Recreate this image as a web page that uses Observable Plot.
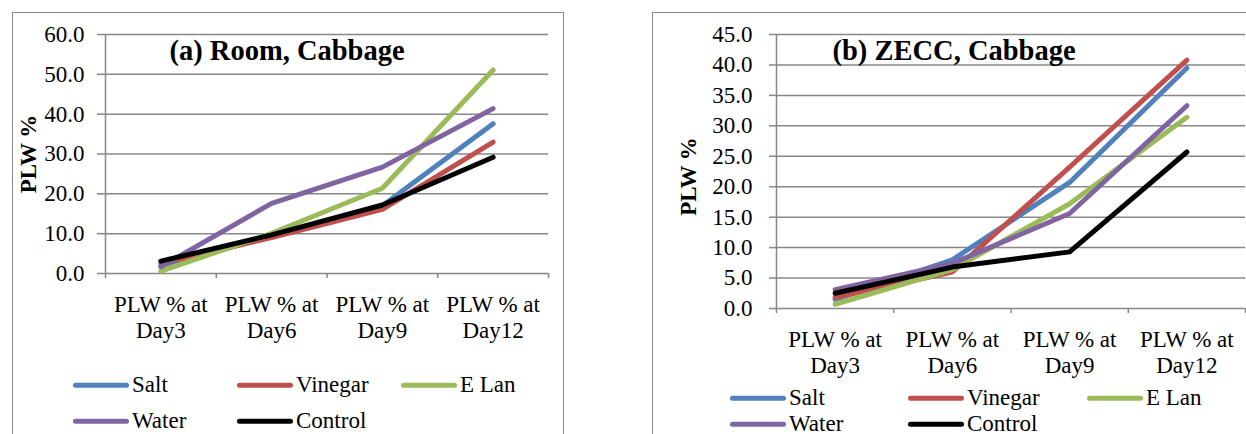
<!DOCTYPE html>
<html><head><meta charset="utf-8">
<script src="https://cdn.jsdelivr.net/npm/d3@7"></script>
<script src="https://cdn.jsdelivr.net/npm/@observablehq/plot@0.6"></script>
<style>
body{margin:0;background:#fff;width:1246px;height:434px;overflow:hidden;position:relative;font-family:'Liberation Serif',serif;}
.frame{position:absolute;border:1.5px solid #888;box-sizing:border-box;}
.chart{position:absolute;top:0;}
.chart svg text{font-family:'Liberation Serif',serif;}
.item{position:absolute;display:flex;align-items:center;white-space:nowrap;transform:translateY(-50%);font-family:'Liberation Serif',serif;font-size:23px;color:#000;line-height:0.8;}
.sw{display:inline-block;width:56px;height:5px;border-radius:3px;margin-right:3px;}
</style></head><body>
<div class="frame" style="left:12px;top:12px;width:552px;height:460px"></div>
<div class="frame" style="left:652px;top:12px;width:700px;height:460px"></div>
<div id="c1" class="chart" style="left:0;width:563px"></div>
<div id="c2" class="chart" style="left:640px;width:606px"></div>
<div id="leg1"></div>
<div id="leg2"></div>
<script>
// ---- data ----
const dayLabels = ["PLW % at\nDay3", "PLW % at\nDay6", "PLW % at\nDay9", "PLW % at\nDay12"];
const seriesNames = ["Salt", "Vinegar", "E Lan", "Water", "Control"];
const seriesColors = ["#4F81BD", "#C0504D", "#9BBB59", "#8064A2", "#000000"];

// (a) Room, Cabbage
const roomSalt    = [2.0, 9.3, 17.0, 37.6];
const roomVinegar = [2.5, 9.0, 16.1, 33.0];
const roomELan    = [0.6, 10.1, 21.4, 51.1];
const roomWater   = [1.7, 17.6, 26.7, 41.4];
const roomControl = [3.1, 9.7, 17.2, 29.2];
const roomTicks = [0, 10, 20, 30, 40, 50, 60];

// (b) ZECC, Cabbage
const zeccSalt    = [1.5, 8.0, 20.7, 39.5];
const zeccVinegar = [1.8, 6.0, 23.2, 40.8];
const zeccELan    = [0.7, 6.4, 17.2, 31.4];
const zeccWater   = [3.1, 7.4, 15.6, 33.3];
const zeccControl = [2.5, 6.8, 9.3, 25.7];
const zeccTicks = [0, 5, 10, 15, 20, 25, 30, 35, 40, 45];

const FONT = "'Liberation Serif', serif";

function panel(o) {
  const data = [];
  seriesNames.forEach((s, k) => o.values[k].forEach((v, i) => data.push({series: s, i, v})));
  const grid = "#878787";
  return Plot.plot({
    width: o.width, height: o.height,
    marginTop: 34, marginBottom: o.marginBottom, marginLeft: o.marginLeft, marginRight: o.marginRight,
    style: {fontFamily: FONT, fontSize: "23px", color: "#000", background: "transparent", overflow: "visible"},
    x: {type: "linear", domain: [-0.5, 3.5]},
    y: {domain: [0, o.ticks[o.ticks.length - 1]]},
    color: {domain: seriesNames, range: seriesColors},
    marks: [
      Plot.gridY(o.ticks, {stroke: grid, strokeOpacity: 1, strokeWidth: 1.5}),
      Plot.ruleX([-0.5], {stroke: grid, strokeWidth: 1.5}),
      Plot.axisY(o.ticks, {tickSize: o.yTickSize, tickPadding: o.yTickPadding, tickFormat: d3.format(".1f"), stroke: grid, strokeWidth: 1.5, label: null, fontFamily: FONT}),
      Plot.axisX([-0.5, 0.5, 1.5, 2.5, 3.5], {tickSize: 5, tickFormat: () => "", stroke: grid, strokeWidth: 1.5, label: null}),
      Plot.axisX([0, 1, 2, 3], {tickSize: 0, tickPadding: 20, tickFormat: i => dayLabels[i], lineHeight: 1.13, label: null, fontFamily: FONT}),
      Plot.line(data, {x: "i", y: "v", z: "series", stroke: "series", strokeWidth: 5, strokeLinejoin: "round", strokeLinecap: "round"}),
      Plot.text([o.title], {frameAnchor: "top-left", dx: o.titleDx, dy: 5, textAnchor: "start", lineAnchor: "top", fontWeight: "bold", fontSize: 28.5, fontFamily: FONT}),
      Plot.text(["PLW %"], {frameAnchor: "left", dx: o.ylabDx, dy: o.ylabDy, rotate: -90, textAnchor: "middle", lineAnchor: "middle", fontWeight: "bold", fontSize: 23, fontFamily: FONT})
    ]
  });
}

document.getElementById("c1").append(panel({
  values: [roomSalt, roomVinegar, roomELan, roomWater, roomControl],
  ticks: roomTicks, title: "(a) Room, Cabbage",
  width: 563, height: 345, marginBottom: 72, marginLeft: 105, marginRight: 15,
  yTickSize: 8, yTickPadding: 13, titleDx: 64, ylabDx: -77, ylabDy: 0
}));
document.getElementById("c2").append(panel({
  values: [zeccSalt, zeccVinegar, zeccELan, zeccWater, zeccControl],
  ticks: zeccTicks, title: "(b) ZECC, Cabbage",
  width: 606, height: 380, marginBottom: 72, marginLeft: 136, marginRight: 1,
  yTickSize: 7, yTickPadding: 17, titleDx: 56, ylabDx: -88, ylabDy: 5
}));

function legend(el, xs, ys) {
  const host = document.getElementById(el);
  seriesNames.forEach((s, k) => {
    const d = document.createElement("div");
    d.className = "item";
    d.style.left = xs[k % 3] + "px";
    d.style.top = ys[Math.floor(k / 3)] + "px";
    const sw = document.createElement("span");
    sw.className = "sw";
    sw.style.background = seriesColors[k];
    d.append(sw, document.createTextNode(s));
    host.append(d);
  });
}
legend("leg1", [73, 237, 401], [385, 421]);
legend("leg2", [730, 908, 1087], [398, 424]);
</script>
</body></html>
